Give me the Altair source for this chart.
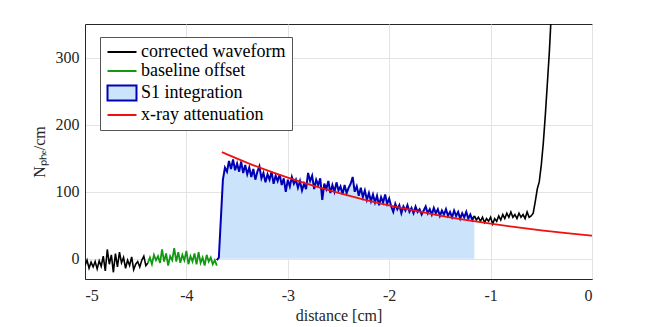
import altair as alt
import pandas as pd

# ---- data ----
black1_x = [-5.00, -4.98, -4.96, -4.94, -4.92, -4.90, -4.88, -4.86, -4.84, -4.82,
            -4.80, -4.78, -4.76, -4.74, -4.72, -4.70, -4.68, -4.66, -4.64, -4.62,
            -4.60, -4.58, -4.56, -4.54, -4.52, -4.50, -4.48, -4.46, -4.44, -4.42,
            -4.40, -4.38]
black1_y = [-10, -2, -14, -5, -12, -4, -15, -3, -11, 4,
            -18, 14, -8, 6, -20, 8, -12, 10, -6, 2,
            -14, -2, -10, 3, -16, -8, -4, -12, -2, 4,
            -10, -6]

green_x = [-4.38, -4.36, -4.34, -4.32, -4.30, -4.28, -4.26, -4.24, -4.22, -4.20,
           -4.18, -4.16, -4.14, -4.12, -4.10, -4.08, -4.06, -4.04, -4.02, -4.00,
           -3.98, -3.96, -3.94, -3.92, -3.90, -3.88, -3.86, -3.84, -3.82, -3.80,
           -3.78, -3.76, -3.74, -3.72, -3.70]
green_y = [-6, 2, -8, 6, -2, 4, -6, 14, -4, 8,
           -10, 4, -2, 16, -4, 10, -6, 6, -2, 12,
           -8, 4, -4, 8, -8, 10, -6, 2, -10, 6,
           -4, 2, -8, -2, -10]

s1_x = [-3.70, -3.68, -3.66, -3.64, -3.62, -3.60, -3.58, -3.56, -3.54, -3.52,
        -3.50, -3.48, -3.46, -3.44, -3.42, -3.40, -3.38, -3.36, -3.34, -3.32,
        -3.30, -3.28, -3.26, -3.24, -3.22, -3.20, -3.18, -3.16, -3.14, -3.12,
        -3.10, -3.08, -3.06, -3.04, -3.02, -3.00, -2.98, -2.96, -2.94, -2.92,
        -2.90, -2.88, -2.86, -2.84, -2.82, -2.80, -2.78, -2.76, -2.74, -2.72,
        -2.70, -2.68, -2.66, -2.64, -2.62, -2.60, -2.58, -2.56, -2.54, -2.52,
        -2.50, -2.48, -2.46, -2.44, -2.42, -2.40, -2.38, -2.36, -2.34, -2.32,
        -2.30, -2.28, -2.26, -2.24, -2.22, -2.20, -2.18, -2.16, -2.14, -2.12,
        -2.10, -2.08, -2.06, -2.04, -2.02, -2.00, -1.98, -1.96, -1.94, -1.92,
        -1.90, -1.88, -1.86, -1.84, -1.82, -1.80, -1.78, -1.76, -1.74, -1.72,
        -1.70, -1.68, -1.66, -1.64, -1.62, -1.60, -1.58, -1.56, -1.54, -1.52,
        -1.50, -1.48, -1.46, -1.44, -1.42, -1.40, -1.38, -1.36, -1.34, -1.32,
        -1.30, -1.28, -1.26, -1.24, -1.22, -1.20, -1.18, -1.16]
s1_y = [-2, 2, 60, 118, 136, 130, 146, 134, 148, 132,
        142, 130, 145, 128, 140, 126, 136, 122, 134, 118,
        130, 138, 120, 128, 114, 126, 118, 130, 112, 124,
        116, 126, 110, 120, 100, 118, 108, 122, 112, 118,
        106, 116, 102, 112, 104, 128, 116, 124, 104, 118,
        110, 120, 88, 112, 104, 116, 98, 110, 100, 114,
        102, 108, 96, 110, 98, 106, 112, 122, 100, 108,
        94, 106, 92, 102, 88, 98, 86, 96, 84, 94,
        80, 92, 84, 96, 82, 90, 78, 70, 82, 74,
        80, 68, 78, 72, 80, 70, 76, 68, 78, 70,
        74, 66, 72, 78, 68, 74, 66, 76, 68, 74,
        64, 72, 66, 74, 64, 70, 62, 72, 64, 70,
        60, 68, 62, 70, 60, 66, 58, 64]

black2_x = [-1.16, -1.14, -1.12, -1.10, -1.08, -1.06, -1.04, -1.02, -1.00, -0.98,
            -0.96, -0.94, -0.92, -0.90, -0.88, -0.86, -0.84, -0.82, -0.80, -0.78,
            -0.76, -0.74, -0.72, -0.70, -0.68, -0.66, -0.64, -0.62, -0.60, -0.58,
            -0.56, -0.54, -0.52, -0.50, -0.48, -0.46, -0.44, -0.42, -0.40]
black2_y = [64, 58, 62, 56, 62, 54, 60, 56, 62, 52,
            60, 56, 64, 58, 66, 60, 68, 62, 70, 62,
            66, 60, 68, 62, 66, 60, 70, 62, 64, 68,
            85, 104, 115, 140, 173, 215, 262, 310, 370]

xray_x = [-3.65, -3.50, -3.25, -3.00, -2.75, -2.50, -2.25, -2.00, -1.75, -1.50,
          -1.25, -1.00, -0.75, -0.50, -0.25, 0.00]
xray_y = [159, 149.5, 134.4, 121, 109, 98.2, 88.4, 79.7, 71.8, 64.6,
          58.2, 52.4, 47.2, 42.5, 38.3, 34.5]

legend_names = ["corrected waveform", "baseline offset", "S1 integration", "x-ray attenuation"]
legend_strokes = ["#000000", "#119911", "#0000b4", "#f01010"]
legend_fills = ["transparent", "transparent", "#cce4fb", "transparent"]

FONT = "Liberation Serif"

black1 = pd.DataFrame({"x": black1_x, "y": black1_y})
green = pd.DataFrame({"x": green_x, "y": green_y})
s1 = pd.DataFrame({"x": s1_x, "y": s1_y})
black2 = pd.DataFrame({"x": black2_x, "y": black2_y})
xray = pd.DataFrame({"x": xray_x, "y": xray_y})
leg = pd.DataFrame({"s": legend_names})

xscale = alt.Scale(domain=[-5, 0], nice=False, zero=False)
yscale = alt.Scale(domain=[-30, 350], nice=False, zero=False)

xenc = alt.X("x:Q", scale=xscale,
             axis=alt.Axis(values=[-5, -4, -3, -2, -1, 0], title="distance [cm]",
                           labelExpr="'' + datum.value"))
yenc = alt.Y("y:Q", scale=yscale,
             axis=alt.Axis(values=[0, 100, 200, 300], title="Nₚₕₑ/cm",
                           labelExpr="'' + datum.value"))

area = alt.Chart(s1).mark_area(color="#cce4fb", clip=True).encode(
    x=xenc, y=yenc, y2=alt.datum(0))

def line(df, color, width):
    return alt.Chart(df).mark_line(color=color, strokeWidth=width, clip=True).encode(
        x=xenc, y=yenc)

l_black1 = line(black1, "#000000", 1.6)
l_green = line(green, "#119911", 1.8)
l_s1 = line(s1, "#0000b4", 2.0)
l_black2 = line(black2, "#000000", 1.6)
l_xray = alt.Chart(xray).mark_line(color="#f01010", strokeWidth=1.8, clip=True,
                                   interpolate="monotone").encode(x=xenc, y=yenc)

legend_def = alt.Legend(title=None, orient="none", legendX=15, legendY=13,
                        labelFont=FONT, labelFontSize=18, labelColor="#000000",
                        symbolSize=210, symbolStrokeWidth=2, symbolOffset=7,
                        labelOffset=10, rowPadding=1,
                        padding=6, strokeColor="#555555", fillColor="white")

legend_layer = alt.Chart(leg).mark_point(strokeWidth=2, opacity=1).encode(
    shape=alt.Shape("s:N", scale=alt.Scale(domain=legend_names,
                                            range=["M-2,0H2", "M-2,0H2",
                                                   "M-2,-1.05H2V1.05H-2Z", "M-2,0H2"]),
                    legend=legend_def),
    stroke=alt.Stroke("s:N", scale=alt.Scale(domain=legend_names, range=legend_strokes),
                      legend=legend_def),
    fill=alt.Fill("s:N", scale=alt.Scale(domain=legend_names, range=legend_fills),
                  legend=legend_def),
).transform_filter("false")

chart = alt.layer(area, l_black1, l_green, l_s1, l_black2, l_xray, legend_layer).properties(
    width=507, height=255,
    autosize=alt.AutoSizeParams(type="none"),
    padding={"left": 77, "top": 16, "right": 40, "bottom": 55},
).configure_view(stroke="#262626", strokeWidth=1).configure_axis(
    labelFont=FONT, labelFontSize=16, labelColor="#262626",
    titleFont=FONT, titleFontSize=16, titleColor="#262626", titleFontWeight="normal",
    domainColor="#262626", tickColor="#262626", tickSize=0,
    gridColor="#e3e3e3", gridWidth=1,
).configure_axisX(labelPadding=8, titlePadding=4).configure_axisY(
    labelPadding=6, titlePadding=8)

chart.save("out.html", embed_options={"renderer": "svg", "actions": False})
